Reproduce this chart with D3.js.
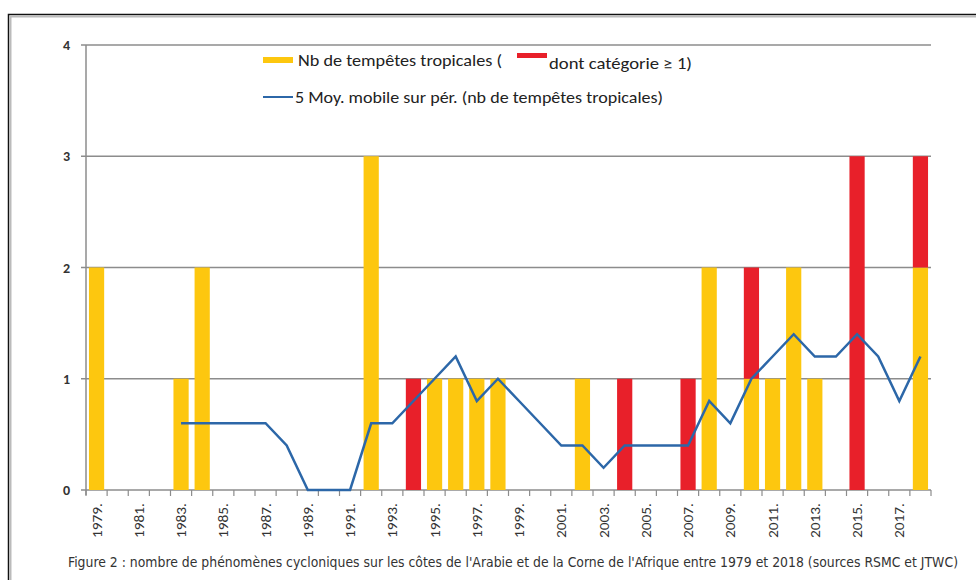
<!DOCTYPE html>
<html>
<head>
<meta charset="utf-8">
<script src="https://cdn.jsdelivr.net/npm/d3@7"></script>
<style>
  body { margin: 0; background: #fff; }
  svg { display: block; }
</style>
</head>
<body>
<svg id="chart" width="976" height="580"></svg>
<script>
// years 1979 -> 2018
var years = d3.range(1979, 2019);
// storms without category (yellow), and category >= 1 (red), stacked on top
var tropStorms = [2,0,0,0,1,2,0,0,0,0, 0,0,0,3,0,0,1,1,1,1, 0,0,0,1,0,0,0,0,0,2, 0,1,1,2,1,0,0,0,0,2];
var catStorms  = [0,0,0,0,0,0,0,0,0,0, 0,0,0,0,0,1,0,0,0,0, 0,0,0,0,0,1,0,0,1,0, 0,1,0,0,0,0,3,0,0,1];
// 5 year moving average (starts 1983)
var movAvg = [null,null,null,null,0.6,0.6,0.6,0.6,0.6,0.4, 0,0,0,0.6,0.6,0.8,1.0,1.2,0.8,1.0, 0.8,0.6,0.4,0.4,0.2,0.4,0.4,0.4,0.4,0.8, 0.6,1.0,1.2,1.4,1.2,1.2,1.4,1.2,0.8,1.2];
var yTicks = [0,1,2,3,4];
var caption = "Figure 2 : nombre de phénomènes cycloniques sur les côtes de l'Arabie et de la Corne de l'Afrique entre 1979 et 2018 (sources RSMC et JTWC)";

var svg = d3.select('#chart');
var font = "Calibri, Carlito, Lato, 'Open Sans', sans-serif";

// outer frame
svg.append('rect').attr('x', 8.5).attr('y', 14.5).attr('width', 1000).attr('height', 600)
    .attr('fill', 'none').attr('stroke', '#111').attr('stroke-width', 1.5);
svg.append('rect').attr('x', 10.5).attr('y', 16.5).attr('width', 1000).attr('height', 600)
    .attr('fill', 'none').attr('stroke', '#bbb').attr('stroke-width', 2);

var x = d3.scaleBand().domain(years).range([86, 931]).paddingInner(0.28).paddingOuter(0.14);
var y = d3.scaleLinear().domain([0, 4]).range([490, 45]);
var step = x.step();

// gridlines + y labels
var grid = svg.append('g');
grid.selectAll('line').data(yTicks).enter().append('line')
    .attr('x1', 81).attr('x2', 931)
    .attr('y1', function(d){ return y(d); }).attr('y2', function(d){ return y(d); })
    .attr('stroke', '#8c8c8c').attr('stroke-width', 1.5);
grid.selectAll('text').data(yTicks).enter().append('text')
    .attr('x', 70).attr('y', function(d){ return y(d) + 5; })
    .attr('text-anchor', 'end')
    .style('font-family', font).style('font-size', '14px').style('font-weight', 'bold')
    .attr('fill', '#333')
    .text(function(d){ return d; });

// y axis line
svg.append('line').attr('x1', 86).attr('x2', 86).attr('y1', y(4)).attr('y2', y(0) + 5)
    .attr('stroke', '#8c8c8c').attr('stroke-width', 1.5);

// bars
var bars = svg.append('g');
bars.selectAll('rect.trop').data(years).enter().append('rect').attr('class', 'trop')
    .attr('x', function(d){ return x(d); })
    .attr('width', x.bandwidth())
    .attr('y', function(d, i){ return y(tropStorms[i]); })
    .attr('height', function(d, i){ return y(0) - y(tropStorms[i]); })
    .attr('fill', '#fdc70f');
bars.selectAll('rect.cat').data(years).enter().append('rect').attr('class', 'cat')
    .attr('x', function(d){ return x(d); })
    .attr('width', x.bandwidth())
    .attr('y', function(d, i){ return y(tropStorms[i] + catStorms[i]); })
    .attr('height', function(d, i){ return y(tropStorms[i]) - y(tropStorms[i] + catStorms[i]); })
    .attr('fill', '#e8202a');

// x axis ticks at category boundaries
var bounds = years.map(function(d){ return x(d) - step * 0.14; }).concat([931]);
svg.append('g').selectAll('line').data(bounds).enter().append('line')
    .attr('x1', function(d){ return d; }).attr('x2', function(d){ return d; })
    .attr('y1', y(0)).attr('y2', y(0) + 6)
    .attr('stroke', '#8c8c8c').attr('stroke-width', 1.2);

// x labels (every other year)
svg.append('g').selectAll('text').data(years.filter(function(d){ return (d - 1979) % 2 == 0; }))
    .enter().append('text')
    .attr('transform', function(d){ return 'translate(' + (x(d) + x.bandwidth() / 2 + 5) + ',503) rotate(-90)'; })
    .attr('text-anchor', 'end')
    .attr('textLength', 35).attr('lengthAdjust', 'spacingAndGlyphs')
    .style('font-family', font).style('font-size', '14px')
    .attr('fill', '#333')
    .text(function(d){ return d + '.'; });

// moving average line
var line = d3.line()
    .defined(function(d){ return d != null; })
    .x(function(d, i){ return x(years[i]) + x.bandwidth() / 2; })
    .y(function(d){ return y(d); });
svg.append('path').datum(movAvg).attr('d', line)
    .attr('fill', 'none').attr('stroke', '#2c67a8').attr('stroke-width', 2.5)
    .attr('stroke-linejoin', 'miter');

// legend
var leg = svg.append('g').style('font-family', font).style('font-size', '16px').attr('fill', '#222');
leg.append('rect').attr('x', 263).attr('y', 57).attr('width', 30).attr('height', 6).attr('fill', '#fdc70f');
leg.append('text').attr('x', 298).attr('y', 66)
    .attr('textLength', 204).attr('lengthAdjust', 'spacingAndGlyphs')
    .text('Nb de tempêtes tropicales (');
leg.append('rect').attr('x', 517).attr('y', 53).attr('width', 30).attr('height', 5).attr('fill', '#e8202a');
leg.append('text').attr('x', 549).attr('y', 69)
    .attr('textLength', 143).attr('lengthAdjust', 'spacingAndGlyphs')
    .text('dont catégorie ≥ 1)');
leg.append('line').attr('x1', 263).attr('x2', 293).attr('y1', 97).attr('y2', 97)
    .attr('stroke', '#2c67a8').attr('stroke-width', 2);
leg.append('text').attr('x', 295).attr('y', 103)
    .attr('textLength', 368).attr('lengthAdjust', 'spacingAndGlyphs')
    .text('5 Moy. mobile sur pér. (nb de tempêtes tropicales)');

// caption
svg.append('text').attr('x', 68).attr('y', 567)
    .attr('textLength', 890).attr('lengthAdjust', 'spacingAndGlyphs')
    .style('font-family', "'DejaVu Sans Condensed', 'Liberation Sans Narrow', sans-serif").style('font-size', '14px')
    .attr('fill', '#333')
    .text(caption);
</script>
</body>
</html>
